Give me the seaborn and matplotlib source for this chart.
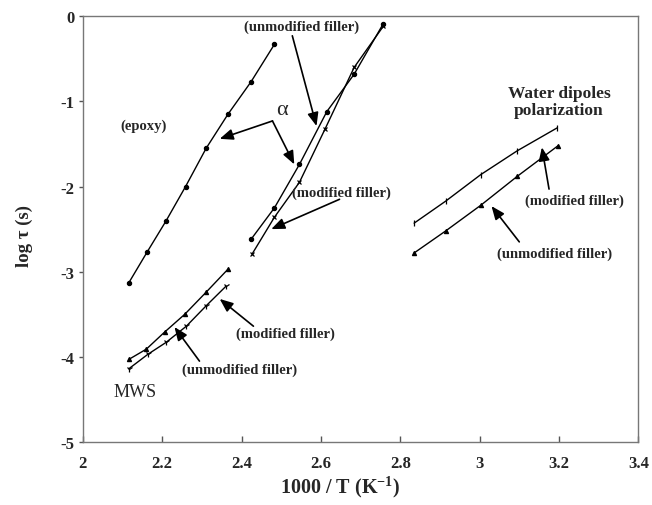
import matplotlib
matplotlib.use("Agg")
import matplotlib.pyplot as plt
import seaborn as sns
import pandas as pd

# ---- data ----
epoxy_x = [2.116, 2.162, 2.209, 2.259, 2.311, 2.366, 2.424, 2.483]
epoxy_y = [-3.13, -2.77, -2.41, -2.00, -1.55, -1.15, -0.77, -0.33]

alpha_unmod_x = [2.424, 2.483, 2.546, 2.615, 2.684, 2.757]
alpha_unmod_y = [-2.62, -2.25, -1.74, -1.12, -0.68, -0.09]

alpha_mod_x = [2.427, 2.483, 2.546, 2.611, 2.684, 2.757]
alpha_mod_y = [-2.79, -2.36, -1.95, -1.32, -0.60, -0.12]

mws_unmod_x = [2.116, 2.160, 2.206, 2.257, 2.311, 2.366]
mws_unmod_y = [-4.03, -3.91, -3.71, -3.50, -3.24, -2.97]

mws_mod_x = [2.116, 2.164, 2.210, 2.261, 2.311, 2.361]
mws_mod_y = [-4.14, -3.97, -3.83, -3.64, -3.40, -3.17]

water_mod_x = [2.835, 2.915, 3.003, 3.095, 3.196]
water_mod_y = [-2.43, -2.17, -1.86, -1.58, -1.31]

water_unmod_x = [2.835, 2.915, 3.003, 3.095, 3.198]
water_unmod_y = [-2.78, -2.52, -2.22, -1.88, -1.52]

x_ticks = [2, 2.2, 2.4, 2.6, 2.8, 3, 3.2, 3.4]
x_tick_labels = ["2", "2.2", "2.4", "2.6", "2.8", "3", "3.2", "3.4"]
y_ticks = [0, -1, -2, -3, -4, -5]
y_tick_labels = ["0", "-1", "-2", "-3", "-4", "-5"]

# ---- style ----
sns.set_style("white")
plt.rcParams["font.family"] = ["Liberation Serif", "DejaVu Serif"]
plt.rcParams["axes.unicode_minus"] = False
plt.rcParams["mathtext.fontset"] = "custom"
plt.rcParams["mathtext.rm"] = "Liberation Serif:bold"
plt.rcParams["mathtext.bf"] = "Liberation Serif:bold"

fig = plt.figure(figsize=(6.52, 5.06), dpi=100)
ax = fig.add_axes([0.127, 0.1245, 0.852, 0.8415])

series = [
    (epoxy_x, epoxy_y, "o", 3.0),
    (alpha_unmod_x, alpha_unmod_y, "o", 3.0),
    (alpha_mod_x, alpha_mod_y, "x", 3.0),
    (mws_unmod_x, mws_unmod_y, "^", 3.0),
    (mws_mod_x, mws_mod_y, "1", 4.5),
    (water_mod_x, water_mod_y, "|", 4.5),
    (water_unmod_x, water_unmod_y, "^", 3.0),
]
for xs, ys, m, ms in series:
    df = pd.DataFrame({"x": xs, "y": ys})
    sns.lineplot(data=df, x="x", y="y", ax=ax, color="black", linewidth=1.0,
                 marker=m, markersize=ms, markeredgecolor="black",
                 markerfacecolor="black", markeredgewidth=0.9, sort=False,
                 estimator=None)

ax.set_xlim(2, 3.4)
ax.set_ylim(-5, 0)
ax.set_xticks(x_ticks)
ax.set_xticklabels(x_tick_labels)
ax.set_yticks(y_ticks)
ax.set_yticklabels(y_tick_labels)
for lab in ax.get_xticklabels() + ax.get_yticklabels():
    lab.set_fontweight("bold")
    lab.set_fontsize(12)
ax.tick_params(axis="x", direction="in", length=4, width=1, color="#555555",
               bottom=True, pad=9)
ax.tick_params(axis="y", direction="out", length=3, width=1, color="#555555",
               left=True, pad=3)
for s in ax.spines.values():
    s.set_color("#777777")
    s.set_linewidth(1.0)

ax.set_xlabel(r"1000 / T (K$^{\mathbf{-1}}$)", fontsize=14.5, fontweight="bold",
              va="center")
ax.xaxis.set_label_coords(0.463, -0.104)
ax.set_ylabel("log τ (s)", fontsize=13.5, fontweight="bold", va="center",
              ha="center")
ax.yaxis.set_label_coords(-0.1045, 0.487)

tkw = dict(fontsize=10.5, fontweight="bold", ha="center", va="center")
ax.text(2.551, -0.12, "(unmodified filler)", **tkw)
ax.text(2.153, -1.28, "(epoxy)", **tkw)
ax.text(2.503, -1.09, "α", fontsize=16, ha="center", va="center")
ax.text(2.652, -2.07, "(modified filler)", **tkw)
ax.text(3.2, -1.0, "Water dipoles\npolarization", fontsize=12.5,
        fontweight="bold", ha="center", va="center", linespacing=1.1)
ax.text(3.24, -2.16, "(modified filler)", **tkw)
ax.text(3.19, -2.78, "(unmodified filler)", **tkw)
ax.text(2.511, -3.72, "(modified filler)", **tkw)
ax.text(2.395, -4.14, "(unmodified filler)", **tkw)
ax.text(2.131, -4.41, "MWS", fontsize=13, ha="center", va="center")

akw = dict(arrowstyle="-|>,head_length=0.8,head_width=0.33", color="black",
           lw=1.2, shrinkA=0, shrinkB=0)
arrows = [
    ((2.478, -1.23), (2.345, -1.44)),
    ((2.478, -1.23), (2.533, -1.74)),
    ((2.528, -0.23), (2.589, -1.29)),
    ((2.647, -2.15), (2.475, -2.50)),
    ((3.175, -2.03), (3.157, -1.54)),
    ((3.10, -2.65), (3.03, -2.23)),
    ((2.43, -3.64), (2.345, -3.32)),
    ((2.294, -4.05), (2.231, -3.65)),
]
for tail, tip in arrows:
    ax.annotate("", xy=tip, xytext=tail, arrowprops=akw)

fig.savefig("out.png", dpi=100)
